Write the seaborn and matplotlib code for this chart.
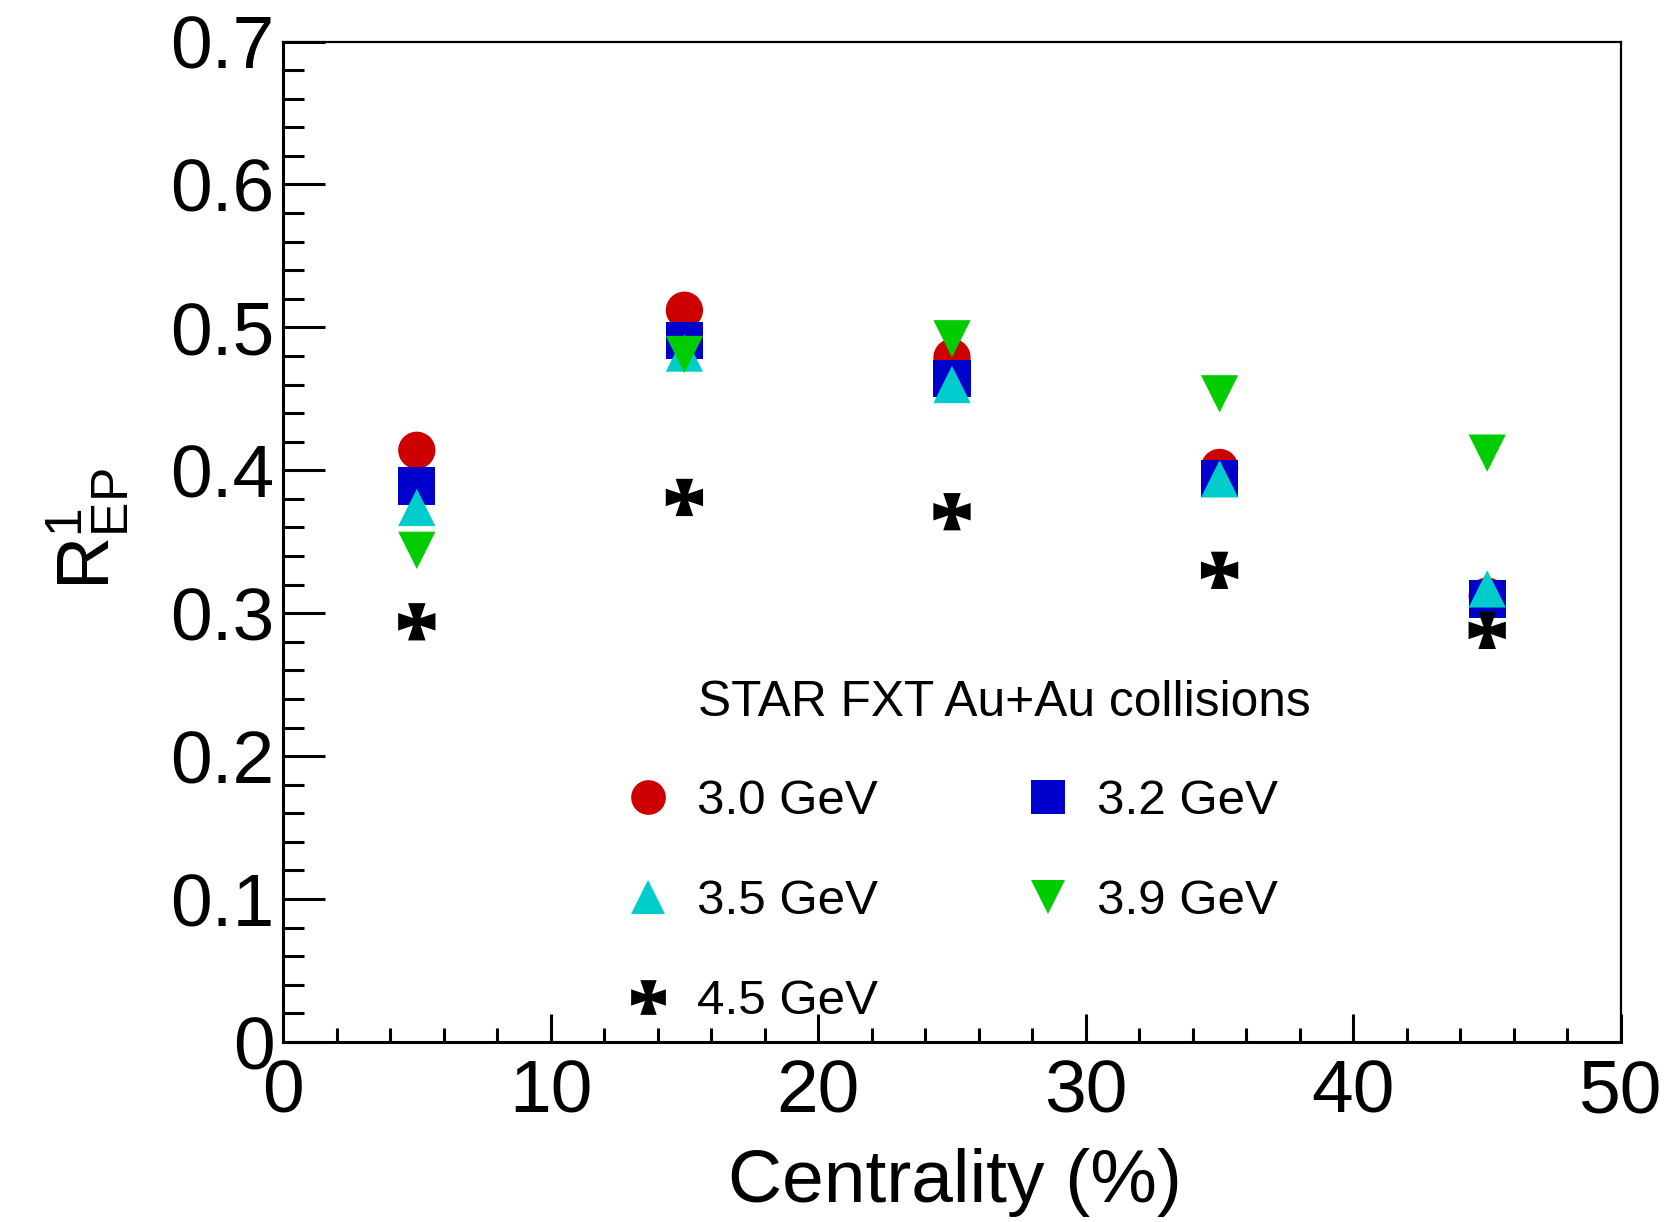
import matplotlib
matplotlib.use("Agg")
import numpy as np
import pandas as pd
import matplotlib.pyplot as plt
import seaborn as sns
from matplotlib.path import Path
from matplotlib.lines import Line2D
from matplotlib.ticker import MultipleLocator
from matplotlib import font_manager

# ---------------- data ----------------
centrality = [5, 15, 25, 35, 45]
energies = ["3.0 GeV", "3.2 GeV", "3.5 GeV", "3.9 GeV", "4.5 GeV"]
r_3p0 = [0.414, 0.512, 0.479, 0.402, 0.312]
r_3p2 = [0.389, 0.491, 0.464, 0.394, 0.310]
r_3p5 = [0.374, 0.482, 0.460, 0.394, 0.317]
r_3p9 = [0.344, 0.481, 0.492, 0.4535, 0.412]
r_4p5 = [0.294, 0.381, 0.371, 0.330, 0.288]
xtick_vals = [0, 10, 20, 30, 40, 50]
xtick_labels = ["0", "10", "20", "30", "40", "50"]
ytick_vals = [0, 0.1, 0.2, 0.3, 0.4, 0.5, 0.6, 0.7]
ytick_labels = ["0", "0.1", "0.2", "0.3", "0.4", "0.5", "0.6", "0.7"]
header = "STAR FXT Au+Au collisions"

series = [r_3p0, r_3p2, r_3p5, r_3p9, r_4p5]
df = pd.DataFrame({
    "centrality": np.tile(centrality, len(energies)),
    "R": np.concatenate(series),
    "energy": np.repeat(energies, len(centrality)),
})

# ---------------- style ----------------
sns.set_theme(style="white")
names = {f.name for f in font_manager.fontManager.ttflist}
base_font = "Liberation Sans" if "Liberation Sans" in names else "DejaVu Sans"
plt.rcParams["font.family"] = [base_font, "DejaVu Sans"]
plt.rcParams["mathtext.fontset"] = "custom"
plt.rcParams["mathtext.rm"] = base_font
plt.rcParams["mathtext.it"] = base_font

# Maltese-cross like marker
cross = Path([(-0.47, 1), (0.47, 1), (0.2, 0.2), (1, 0.47), (1, -0.47),
              (0.2, -0.2), (0.47, -1), (-0.47, -1), (-0.2, -0.2),
              (-1, -0.47), (-1, 0.47), (-0.2, 0.2), (-0.47, 1)],
             closed=True)

palette = {"3.0 GeV": "#CC0000", "3.2 GeV": "#0000CC", "3.5 GeV": "#00CCCC",
           "3.9 GeV": "#00CC00", "4.5 GeV": "#000000"}
markers = {"3.0 GeV": "o", "3.2 GeV": "s", "3.5 GeV": "^",
           "3.9 GeV": "v", "4.5 GeV": cross}

fig = plt.figure(figsize=(16.72, 12.22), dpi=100)
ax = fig.add_axes([283 / 1672, 1 - 1042 / 1222, (1621 - 283) / 1672, (1042 - 41.5) / 1222])

sns.scatterplot(data=df, x="centrality", y="R", hue="energy", style="energy",
                palette=palette, markers=markers, s=720, linewidth=0,
                edgecolor="none", legend=False, ax=ax, zorder=3)

ax.set_xlim(0, 50)
ax.set_ylim(0, 0.7)
ax.set_xticks(xtick_vals)
ax.set_xticklabels(xtick_labels)
ax.set_yticks(ytick_vals)
ax.set_yticklabels(ytick_labels)
ax.xaxis.set_minor_locator(MultipleLocator(2))
ax.yaxis.set_minor_locator(MultipleLocator(0.02))

ax.tick_params(axis="both", which="both", direction="in", top=False, right=False,
               bottom=True, left=True, width=2.2, color="black", labelsize=54,
               labelcolor="black")
ax.tick_params(axis="y", which="major", length=30, pad=6)
ax.tick_params(axis="y", which="minor", length=15)
ax.tick_params(axis="x", which="major", length=20, pad=12)
ax.tick_params(axis="x", which="minor", length=10)

for side in ["left", "bottom"]:
    ax.spines[side].set_linewidth(2.2)
for side in ["top", "right"]:
    ax.spines[side].set_linewidth(1.6)
for sp in ax.spines.values():
    sp.set_color("black")
    sp.set_visible(True)

ax.set_xlabel("Centrality (%)", fontsize=54, color="black")
ax.xaxis.set_label_coords(0.502, -0.106)
ax.set_ylabel(r"$\mathregular{R^{1}_{EP}}$", fontsize=53, color="black")
ax.yaxis.set_label_coords(-0.113, 0.513)

# header
fig.text(698 / 1672, 1 - 716 / 1222, header, fontsize=35.7,
         ha="left", va="baseline", color="black")

# legend (column-wise ordering to reproduce row layout)
order = ["3.0 GeV", "3.5 GeV", "4.5 GeV", "3.2 GeV", "3.9 GeV"]
handles = [Line2D([], [], linestyle="", marker=markers[e], color=palette[e],
                  markersize=25, markeredgewidth=0) for e in order]
leg = ax.legend(handles, order, ncol=2, frameon=False, loc="upper left",
                bbox_to_anchor=(618 / 1672, 1 - 779 / 1222),
                bbox_transform=fig.transFigure, borderpad=0, borderaxespad=0,
                handlelength=1.2, handletextpad=0.41, columnspacing=2.83,
                labelspacing=1.12, prop={"size": 35.5})
for t in leg.get_texts():
    t.set_color("black")

fig.savefig("out.png", dpi=100, facecolor="white")
